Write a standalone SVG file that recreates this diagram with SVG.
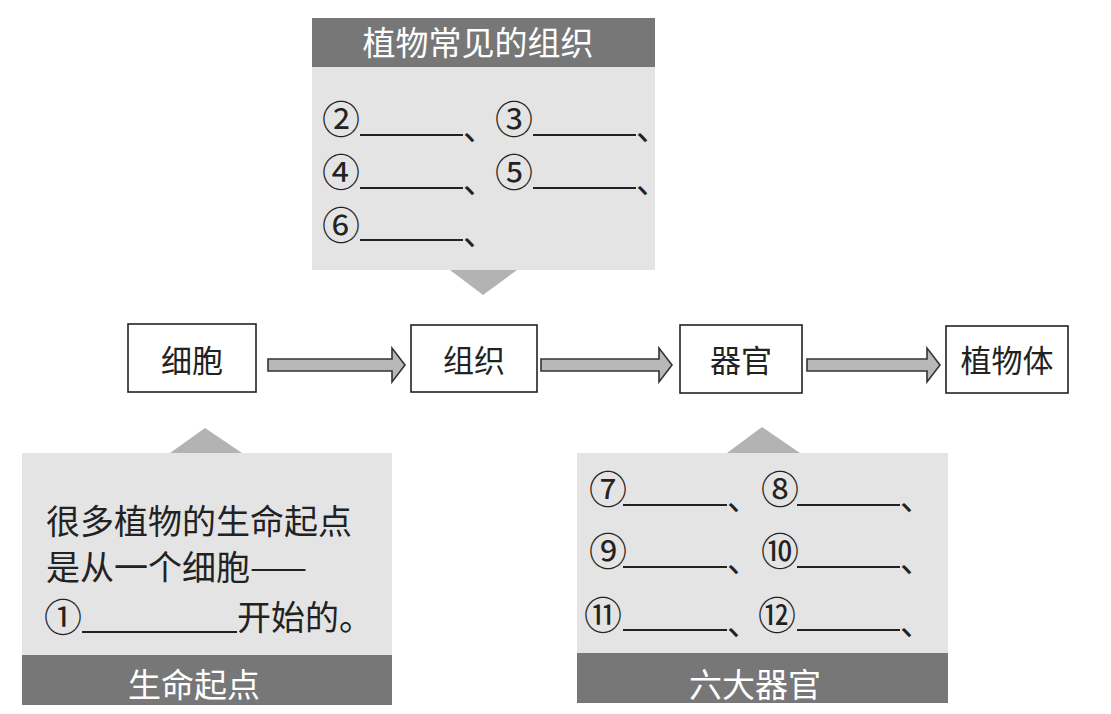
<svg xmlns="http://www.w3.org/2000/svg" width="1111" height="714" viewBox="0 0 1111 714">
<style>
.cjk{font-family:"Noto Sans CJK SC","Noto Sans",sans-serif;}
.box{fill:#ffffff;stroke:#222;stroke-width:1.6;}
.lbl{font-size:31px;fill:#222;text-anchor:middle;}
.panel{fill:#e4e4e4;}
.band{fill:#777777;}
.tri{fill:#b3b3b3;}
.title{font-size:33px;fill:#ffffff;text-anchor:middle;}
.num{font-size:38px;fill:#222;}
.dun{font-size:33px;fill:#222;}
.body{font-size:34px;fill:#222;}
.ul{stroke:#222;stroke-width:2;}
.arrow{fill:#b8b8b8;stroke:#333;stroke-width:1.6;stroke-linejoin:miter;}
</style>
<rect width="1111" height="714" fill="#ffffff"/>

<g id="panel-tissues" class="cjk">
  <rect class="panel" x="312" y="18" width="343" height="252"/>
  <rect class="band" x="312" y="18" width="343" height="49"/>
  <polygon class="tri" points="450,270 517,270 483,295"/>
  <text class="title" x="478" y="55">植物常见的组织</text>
  <text class="num" x="322" y="133">②</text>
  <line class="ul" x1="360" y1="135" x2="463" y2="135"/>
  <text class="dun" x="463" y="140">、</text>
  <text class="num" x="495" y="133">③</text>
  <line class="ul" x1="533" y1="135" x2="636" y2="135"/>
  <text class="dun" x="636" y="140">、</text>
  <text class="num" x="322" y="186">④</text>
  <line class="ul" x1="360" y1="188" x2="463" y2="188"/>
  <text class="dun" x="463" y="193">、</text>
  <text class="num" x="495" y="186">⑤</text>
  <line class="ul" x1="533" y1="188" x2="636" y2="188"/>
  <text class="dun" x="636" y="193">、</text>
  <text class="num" x="322" y="239">⑥</text>
  <line class="ul" x1="360" y1="240" x2="463" y2="240"/>
  <text class="dun" x="463" y="245">、</text>
</g>

<g id="node-cell" class="cjk">
  <rect class="box" x="128" y="324" width="128" height="68"/>
  <text class="lbl" x="192" y="372">细胞</text>
</g>
<g id="node-tissue" class="cjk">
  <rect class="box" x="411" y="325" width="126" height="67"/>
  <text class="lbl" x="474" y="372">组织</text>
</g>
<g id="node-organ" class="cjk">
  <rect class="box" x="680" y="325" width="122" height="68"/>
  <text class="lbl" x="741" y="372">器官</text>
</g>
<g id="node-plant" class="cjk">
  <rect class="box" x="946" y="326" width="122" height="67"/>
  <text class="lbl" x="1007" y="372">植物体</text>
</g>

<g id="connectors">
  <polygon class="arrow" points="268,359 392,359 392,348 405,365 392,382 392,371 268,371"/>
  <polygon class="arrow" points="541,359 659,359 659,348 672,365 659,382 659,371 541,371"/>
  <polygon class="arrow" points="807,359 927,359 927,348 940,365 927,382 927,371 807,371"/>
</g>

<g id="panel-origin" class="cjk">
  <polygon class="tri" points="170,453 242,453 205,428"/>
  <rect class="panel" x="22" y="453" width="370" height="202"/>
  <rect class="band" x="22" y="655" width="370" height="50"/>
  <text class="title" x="194" y="697">生命起点</text>
  <text class="body" x="46" y="534">很多植物的生命起点</text>
  <text class="body" x="46" y="580">是从一个细胞——</text>
  <text class="num" x="44" y="631">①</text>
  <line class="ul" x1="82" y1="632" x2="237" y2="632"/>
  <text class="body" x="237" y="630">开始的。</text>
</g>

<g id="panel-organs" class="cjk">
  <polygon class="tri" points="727,453 800,453 762,427"/>
  <rect class="panel" x="577" y="453" width="371" height="200"/>
  <rect class="band" x="577" y="653" width="371" height="50"/>
  <text class="title" x="755" y="697">六大器官</text>
  <text class="num" x="589" y="503">⑦</text>
  <line class="ul" x1="623" y1="505" x2="727" y2="505"/>
  <text class="dun" x="727" y="510">、</text>
  <text class="num" x="761" y="503">⑧</text>
  <line class="ul" x1="797" y1="505" x2="900" y2="505"/>
  <text class="dun" x="900" y="510">、</text>
  <text class="num" x="589" y="565">⑨</text>
  <line class="ul" x1="623" y1="567" x2="727" y2="567"/>
  <text class="dun" x="727" y="572">、</text>
  <text class="num" x="761" y="565">⑩</text>
  <line class="ul" x1="797" y1="567" x2="900" y2="567"/>
  <text class="dun" x="900" y="572">、</text>
  <text class="num" x="584" y="629">⑪</text>
  <line class="ul" x1="623" y1="630" x2="727" y2="630"/>
  <text class="dun" x="727" y="635">、</text>
  <text class="num" x="758" y="629">⑫</text>
  <line class="ul" x1="797" y1="630" x2="900" y2="630"/>
  <text class="dun" x="900" y="635">、</text>
</g>
</svg>
